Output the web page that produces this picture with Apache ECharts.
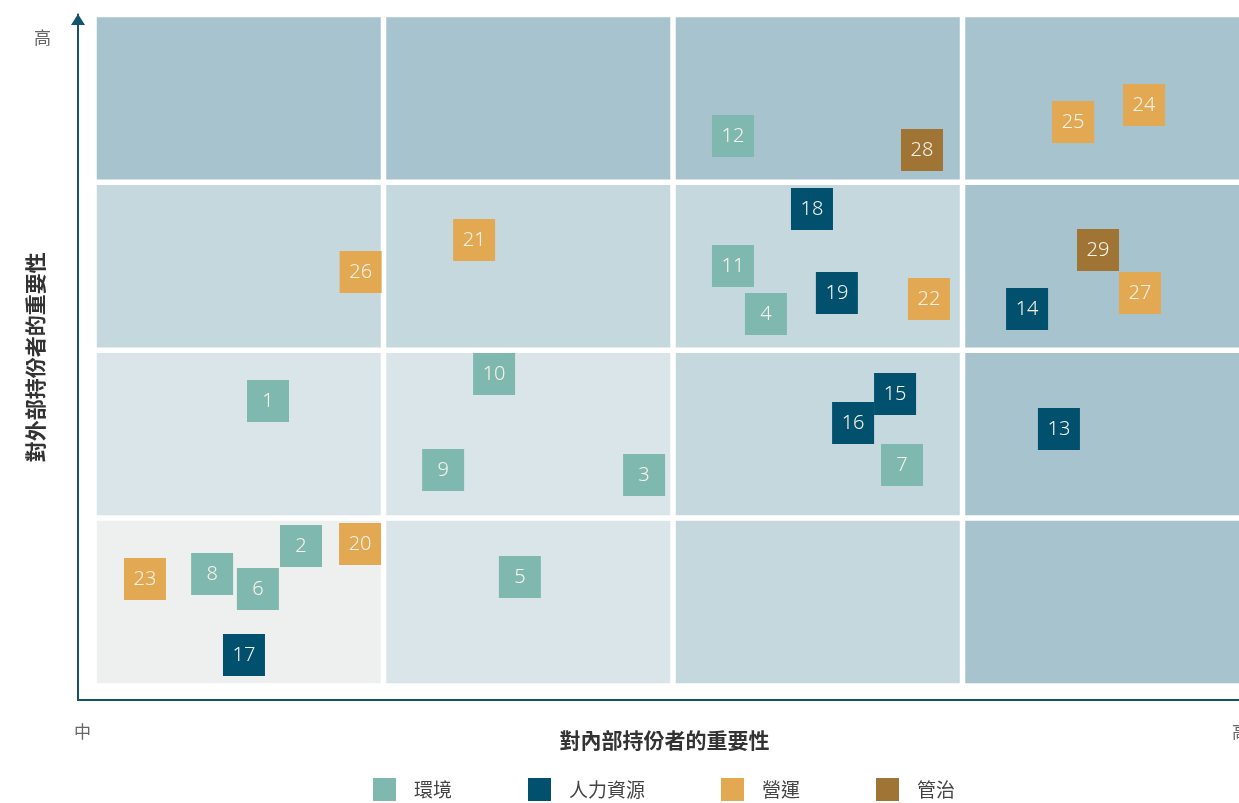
<!DOCTYPE html>
<html>
<head>
<meta charset="utf-8">
<script src="https://cdn.jsdelivr.net/npm/echarts@6/dist/echarts.min.js"></script>
<style>html,body{margin:0;padding:0;background:#fff;}#c{width:1239px;height:803px;}</style>
</head>
<body>
<div id="c"></div>
<script>
const categoryNames = ['環境', '人力資源', '營運', '管治'];
const categoryColors = ['#7fb8ae', '#01506e', '#e3a852', '#a07434'];
const xAxisTitle = '對內部持份者的重要性';
const yAxisTitle = '對外部持份者的重要性';
const lowLabel = '中';
const highLabel = '高';

// [x, y, id]
const envPoints = [
  [0.601, 1.697, 1], [0.715, 0.834, 2], [1.900, 1.257, 3], [2.321, 2.216, 4],
  [1.471, 0.649, 5], [0.566, 0.578, 6], [2.791, 1.316, 7], [0.408, 0.667, 8],
  [1.206, 1.286, 9], [1.382, 1.858, 10], [2.207, 2.501, 11], [2.207, 3.276, 12]
];
const hrPoints = [
  [3.333, 1.531, 13], [3.223, 2.245, 14], [2.767, 1.739, 15], [2.622, 1.566, 16],
  [0.518, 0.185, 17], [2.480, 2.841, 18], [2.566, 2.341, 19]
];
const opsPoints = [
  [0.919, 0.846, 20], [1.313, 2.656, 21], [2.884, 2.305, 22], [0.176, 0.637, 23],
  [3.627, 3.460, 24], [3.382, 3.359, 25], [0.921, 2.466, 26], [3.613, 2.341, 27]
];
const govPoints = [
  [2.860, 3.192, 28], [3.468, 2.597, 29]
];

// background cells: [col, row, shade]
const cellShades = ['#eef0ef', '#dae5ea', '#c5d8de', '#a7c3cd'];
const cells = [
  [0, 0, 0], [1, 0, 1], [2, 0, 2], [3, 0, 3],
  [0, 1, 1], [1, 1, 1], [2, 1, 2], [3, 1, 3],
  [0, 2, 2], [1, 2, 2], [2, 2, 2], [3, 2, 3],
  [0, 3, 3], [1, 3, 3], [2, 3, 3], [3, 3, 3]
];

const CJK = '"Noto Sans CJK TC", "Noto Sans CJK SC", "Noto Sans", sans-serif';
const chart = echarts.init(document.getElementById('c'), null, {renderer: 'canvas'});
const allPoints = [envPoints, hrPoints, opsPoints, govPoints];

const scatterSeries = allPoints.map((pts, i) => ({
  name: categoryNames[i],
  type: 'scatter',
  symbol: 'rect',
  symbolSize: 42,
  z: 5,
  itemStyle: {color: categoryColors[i], opacity: 1},
  label: {
    show: true, position: 'inside',
    formatter: p => String(p.value[2]),
    color: '#f6f3ea', fontSize: 20, fontFamily: '"Source Sans Pro", "Noto Sans", sans-serif', fontWeight: 300
  },
  emphasis: {disabled: true},
  data: pts
}));

const GAP = 5.5;
const option = {
  backgroundColor: '#ffffff',
  animation: false,
  grid: {left: 78, right: 0, top: 14.4, bottom: 103, containLabel: false},
  xAxis: {
    type: 'value', min: -0.0553, max: 3.955,
    axisLine: {show: true, onZero: false, lineStyle: {color: '#13536d', width: 2}},
    axisTick: {show: false}, axisLabel: {show: false}, splitLine: {show: false},
    name: xAxisTitle, nameLocation: 'middle', nameGap: 30,
    nameTextStyle: {fontFamily: CJK, fontSize: 21, fontWeight: 'bold', color: '#333', padding: [0, 0, 0, 12]}
  },
  yAxis: {
    type: 'value', min: -0.0834, max: 4,
    axisLine: {show: true, onZero: false, lineStyle: {color: '#13536d', width: 2},
      symbol: ['none', 'triangle'], symbolSize: [14, 11], symbolOffset: [0, -5]},
    axisTick: {show: false}, axisLabel: {show: false}, splitLine: {show: false},
    name: yAxisTitle, nameLocation: 'middle', nameGap: 32, nameRotate: 90,
    nameTextStyle: {fontFamily: CJK, fontSize: 21, fontWeight: 'bold', color: '#333'}
  },
  legend: {
    data: categoryNames,
    left: 368, top: 773,
    icon: 'rect', itemWidth: 23, itemHeight: 23, itemGap: 76,
    textStyle: {fontFamily: CJK, fontSize: 19, color: '#444', padding: [0, 0, 0, 13]},
    selectedMode: false
  },
  graphic: [
    {type: 'text', left: 34, top: 29, style: {text: highLabel, fontFamily: CJK, fontSize: 17, fill: '#666'}},
    {type: 'text', left: 74, top: 723, style: {text: lowLabel, fontFamily: CJK, fontSize: 17, fill: '#666'}},
    {type: 'text', left: 1232, top: 723, style: {text: highLabel, fontFamily: CJK, fontSize: 17, fill: '#666'}}
  ],
  series: [
    {
      type: 'custom', z: 1, silent: true,
      renderItem: function (params, api) {
        const c = api.value(0), r = api.value(1), s = api.value(2);
        const tl = api.coord([c, r + 1]);
        const br = api.coord([c + 1, r]);
        return {
          type: 'rect',
          shape: {x: tl[0] + GAP / 2, y: tl[1] + GAP / 2, width: br[0] - tl[0] - GAP, height: br[1] - tl[1] - GAP},
          style: {fill: cellShades[s]}
        };
      },
      data: cells,
      clip: false
    }
  ].concat(scatterSeries)
};
chart.setOption(option);
</script>
</body>
</html>
